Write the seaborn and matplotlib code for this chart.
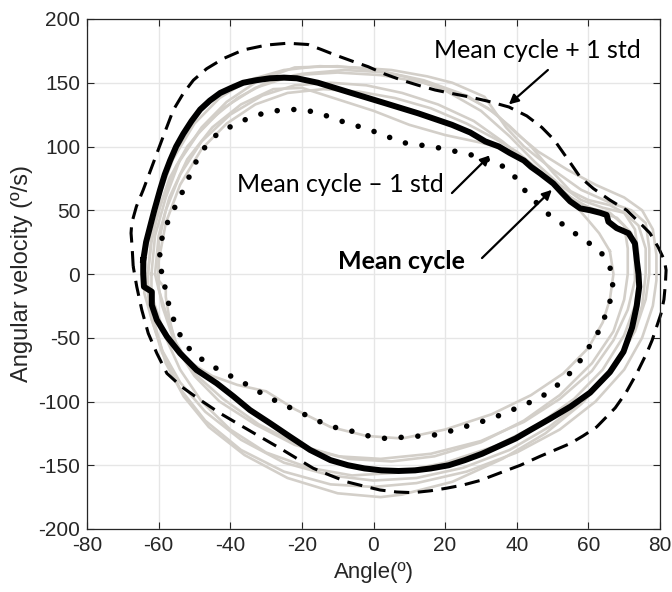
import numpy as np
import pandas as pd
import seaborn as sns
import matplotlib.pyplot as plt

# mean cycle (angle in deg, angular velocity in deg/s), clockwise from left
mean_angle = [-64.3, -63.5, -62.4, -61.2, -59.6, -58.3, -56.8, -55.1, -53.1, -50.8, -48.4, -45.7,
              -42.8, -39.7, -36.4, -32.7, -28.9, -25.0, -21.4, -15.5, -6.2, 3.2, 12.5, 21.9, 27.0,
              31.2, 35.0, 38.0, 42.0, 44.0, 46.5, 50.2, 52.5, 54.9, 57.7, 60.5, 63.3, 65.1, 65.6,
              67.9, 71.2, 73.0, 73.5, 74.0, 74.2, 73.5, 72.2, 69.8, 66.0, 60.5, 55.0, 49.0, 44.0,
              39.7, 35.0, 30.3, 25.5, 21.0, 16.0, 11.6, 7.0, 2.2, -2.5, -7.1, -12.0, -17.7, -23.3,
              -28.9, -34.5, -39.1, -43.8, -49.4, -54.0, -57.7, -60.5, -61.9, -61.9, -64.1, -64.3,
              -64.3]
mean_vel = [11, 25, 37, 50, 66, 78, 89, 100, 110, 120, 129, 136,
            142, 146, 150, 152, 153.5, 154, 153.5, 150, 142, 134, 126, 117, 111,
            104, 100, 95, 89, 84, 79, 71, 64, 57, 51.5, 50, 48, 46.3, 41,
            36, 32, 24, 11, 0, -10, -25, -42, -61, -77, -93, -104, -114, -122,
            -129, -135, -141, -146, -150, -152.5, -154, -154.5, -154, -152.5, -150, -146, -138,
            -127.6, -117, -106.7, -96, -85.7, -75.3, -62.2, -49, -36, -24.3, -13.9, -10, 0, 11]

# mean + 1 std
plus_angle = [-67.1, -67.4, -67.7, -67.5, -66.2, -64.3, -61.5, -58.7, -55.9, -53.1, -50.3, -46.6,
              -41.9, -36.4, -29.8, -24.0, -18.3, -14.5, -10.9, -6.0, -1.5, 3.0, 7.9, 12.5, 17.2,
              22.0, 26.6, 32.0, 37.8, 42.8, 47.0, 50.5, 53.0, 55.0, 57.7, 61.4, 66.0, 70.7, 74.4,
              77.2, 79.5, 81.2, 81.7, 81.5, 81.1, 80.3, 79.1, 77.8, 76.3, 73.5, 70.5, 67.5, 62.3,
              58.5, 54.9, 46.5, 41.0, 37.2, 29.7, 25.0, 20.4, 16.0, 11.1, 6.5, 1.8, -2.5, -7.5,
              -12.0, -16.8, -21.5, -26.1, -31.7, -37.3, -42.8, -48.4, -53.6, -57.7, -60.5, -62.9,
              -64.7, -66.1, -67.1]
plus_vel = [6, 21, 32, 40, 53, 66, 87, 108, 128.6, 141.7, 152, 161,
            169, 175.7, 179.6, 181, 180, 176, 172, 167, 162.6, 157, 152, 148, 144.3,
            141.5, 139, 135.5, 131, 124, 115, 105, 95, 87, 76, 67, 58, 50, 40,
            32, 21, 11, 3, -8, -20, -31, -41, -52, -62, -78, -93, -105, -120,
            -127, -133, -143, -150, -154, -162, -165.5, -168, -170, -171.5, -171, -169.4, -166.5,
            -163, -158, -152.4, -144.5, -136.7, -127.6, -118.4, -109.3, -98.8, -88.4, -77.9, -62.2,
            -46.5, -28.2, -10, 6]

# mean - 1 std
minus_angle = [-59.2, -59.7, -59.0, -57.3, -55.0, -52.9, -50.9, -48.8, -45.9, -43.1, -38.9, -34.3,
               -29.6, -24.7, -19.9, -14.9, -10.3, -5.6, -1.0, 3.7, 8.3, 13.4, 18.1, 23.2, 27.9,
               34.9, 39.0, 41.8, 45.1, 48.8, 52.8, 56.7, 59.3, 63.3, 66.0, 66.8, 66.0, 64.4, 62.5,
               59.8, 57.0, 53.8, 50.2, 46.0, 41.6, 36.9, 32.3, 27.6, 22.9, 18.1, 13.3, 8.3,
               3.4, -1.4, -6.4, -11.2, -15.7, -20.1, -24.7, -29.1, -33.4, -37.7, -42.1, -46.3,
               -50.5, -53.5, -55.4, -57.0, -58.1, -59.2]
minus_vel = [2, 16, 29, 42, 55, 67, 80, 92.5, 104, 111, 117, 123,
             127, 129, 129, 126, 121, 117, 113, 108, 103, 101, 99, 96, 93,
             87, 78, 67, 57, 47, 39, 31, 26, 18, 6, -8, -22, -35, -47,
             -59, -71, -81, -90, -98, -103, -109, -114, -118, -122, -126, -127, -128,
             -129, -127, -123, -120, -115, -109, -103, -97, -90, -83, -77, -70,
             -62, -51, -39, -26, -12, 2]

# individual cycles (grey)
g1_angle = [-64, -63, -60, -56, -50, -43, -35, -25, -15, -5, 5, 15, 22, 31, 37, 42, 50, 58, 66, 72,
            76, 77, 77, 76, 73, 67, 59, 49, 38, 25, 12, 0, -12, -25, -37, -47, -54, -59, -62, -64, -64]
g1_vel = [0, 30, 60, 90, 118, 138, 152, 160, 163, 162, 160, 155, 150, 139, 115, 100, 82, 66, 56, 50,
          40, 20, 0, -20, -45, -72, -98, -120, -138, -152, -160, -162, -158, -148, -130, -108, -85,
          -60, -35, -15, 0]

g2_angle = [-62, -61, -58, -54, -48, -41, -32, -22, -10, 0, 10, 20, 30, 38, 45, 52, 58, 64, 70, 74,
            76, 76, 75, 72, 66, 58, 48, 36, 22, 8, 2, -10, -24, -36, -46, -53, -58, -61, -62, -62]
g2_vel = [0, 30, 60, 90, 115, 135, 152, 162, 163, 160, 154, 144, 128, 108, 88, 70, 58, 52, 48, 38,
          20, 0, -25, -50, -78, -102, -125, -145, -163, -173, -175, -172, -160, -142, -120, -96,
          -70, -40, -15, 0]

g3_angle = [-61, -60, -57, -52, -45, -37, -28, -20, -10, 0, 10, 20, 30, 38, 46, 54, 60, 66, 70,
            71, 71, 70, 67, 61, 52, 42, 30, 17, 5, -7, -20, -32, -42, -50, -55, -58, -60, -61]
g3_vel = [0, 30, 60, 90, 115, 133, 145, 146, 137, 128, 117, 109, 103, 97, 80, 62, 52, 48, 38,
          20, 0, -20, -45, -70, -95, -115, -132, -143, -147, -145, -135, -118, -98, -78, -55,
          -30, -12, 0]

g4_angle = [66, 67, 66, 64, 60, 53, 44, 33, 20, 8, -2, -12, -22, -30, -38, -45, -52, -56, -59, -60,
            -60, -58, -54, -48, -41, -33, -24, -14, -4, 6, 16, 26, 34, 40, 46, 52, 56, 60, 63, 66]
g4_vel = [18, 0, -20, -38, -58, -78, -95, -110, -122, -129, -127, -120, -106, -92, -87, -80, -68,
          -50, -25, -10, 10, 40, 70, 98, 118, 133, 142, 145, 143, 138, 130, 118, 106, 96, 82, 68,
          55, 42, 32, 18]

g5_angle = [-63, -62, -59, -55, -49, -42, -33, -22, -10, 2, 14, 26, 34, 40, 46, 54, 62, 70, 75, 78,
            79, 79, 78, 75, 70, 62, 52, 40, 26, 12, 0, -12, -25, -37, -47, -54, -59, -62, -63, -63]
g5_vel = [0, 30, 58, 85, 110, 130, 146, 156, 158, 156, 150, 140, 126, 110, 96, 82, 70, 60, 50, 35,
          15, -5, -25, -50, -75, -100, -122, -140, -155, -164, -167, -165, -155, -138, -115, -90,
          -62, -35, -15, 0]

g6_angle = [-63, -62, -60, -57, -52, -46, -38, -30, -20, -8, 4, 14, 24, 32, 38, 44, 50, 55, 60, 66,
            70, 73, 74, 74, 73, 70, 64, 56, 46, 34, 20, 6, -6, -18, -30, -40, -48, -54, -58, -61,
            -63, -63]
g6_vel = [0, 25, 50, 75, 100, 120, 138, 150, 157, 160, 158, 152, 142, 130, 116, 100, 80, 65, 58,
          54, 48, 35, 15, -5, -25, -48, -75, -98, -118, -135, -148, -156, -158, -152, -140, -122,
          -100, -75, -50, -25, -8, 0]

g7_angle = [-60, -60, -58, -54, -48, -40, -31, -22, -12, -2, 8, 18, 28, 36, 43, 50, 56, 62, 68, 72,
            73, 73, 71, 67, 61, 52, 42, 30, 16, 2, -10, -22, -33, -43, -50, -55, -57, -58, -58,
            -60, -60]
g7_vel = [0, 25, 50, 78, 104, 125, 140, 148, 150, 148, 142, 133, 120, 104, 88, 72, 58, 50, 44, 32,
          15, -5, -28, -52, -76, -98, -116, -131, -141, -145, -143, -134, -118, -100, -80, -58,
          -35, -18, -12, -5, 0]

gray_curves = [(g1_angle, g1_vel), (g2_angle, g2_vel), (g3_angle, g3_vel), (g4_angle, g4_vel),
               (g5_angle, g5_vel), (g6_angle, g6_vel), (g7_angle, g7_vel)]

x_ticks = [-80, -60, -40, -20, 0, 20, 40, 60, 80]
y_ticks = [-200, -150, -100, -50, 0, 50, 100, 150, 200]

plt.rcParams['font.family'] = ['Liberation Sans', 'DejaVu Sans']
plt.rcParams['axes.unicode_minus'] = False

fig = plt.figure(figsize=(6.72, 5.92), dpi=100)
ax = fig.add_axes([87 / 672, 1 - 529 / 592, 573 / 672, 510 / 592])

grey = '#D3CFC9'
for ga, gv in gray_curves:
    sns.lineplot(x=ga, y=gv, sort=False, estimator=None, color=grey, linewidth=1.9, ax=ax)
    ax.lines[-1].set_solid_joinstyle('round')

sns.lineplot(x=plus_angle, y=plus_vel, sort=False, estimator=None, color='black',
             linewidth=2.2, ax=ax)
plus_line = ax.lines[-1]
plus_line.set_dashes((5, 2.8))
plus_line.set_dash_capstyle('butt')
plus_line.set_dash_joinstyle('round')
plus_line.set_clip_on(False)

sns.lineplot(x=minus_angle, y=minus_vel, sort=False, estimator=None, color='black',
             linewidth=4.0, ax=ax)
minus_line = ax.lines[-1]
minus_line.set_dashes((0.01, 3.0))
minus_line.set_dash_capstyle('round')

sns.lineplot(x=mean_angle, y=mean_vel, sort=False, estimator=None, color='black',
             linewidth=4.3, ax=ax)
ax.lines[-1].set_solid_joinstyle('round')

ax.set_xlim(-80, 80)
ax.set_ylim(-200, 200)
ax.set_xticks(x_ticks)
ax.set_yticks(y_ticks)
ax.grid(True, color='#E6E6E6', linewidth=1.0)
ax.set_axisbelow(True)
ax.tick_params(direction='in', length=5, width=0.8, top=True, right=True,
               labelsize=15, colors='#262626', pad=5)
for sp in ax.spines.values():
    sp.set_color('#262626')
    sp.set_linewidth(0.9)

ax.set_xlabel('Angle(º)', fontsize=16, color='#262626', labelpad=5)
ax.set_ylabel('Angular velocity (º/s)', fontsize=17, color='#262626', labelpad=4)

ann_font = ['Lato', 'DejaVu Sans']
arrow = dict(arrowstyle='-|>', color='black', lw=1.6, mutation_scale=14, shrinkA=0, shrinkB=0)
ax.annotate('Mean cycle + 1 std', xy=(37.8, 133), xytext=(45.7, 175), ha='center', va='center',
            fontsize=18, family=ann_font, color='black')
ax.annotate('', xy=(37.8, 133), xytext=(48.7, 160), arrowprops=arrow)
ax.annotate('Mean cycle \u2013 1 std', xy=(32.5, 93), xytext=(-9.3, 70), ha='center',
            va='center', fontsize=18, family=ann_font, color='black')
ax.annotate('', xy=(32.5, 93), xytext=(21.9, 63.5), arrowprops=arrow)
ax.annotate('Mean cycle', xy=(49.8, 66), xytext=(7.9, 9.5), ha='center', va='center',
            fontsize=18, family=ann_font, fontweight='bold', color='black')
ax.annotate('', xy=(49.8, 66), xytext=(30.3, 12.5), arrowprops=arrow)

fig.savefig('out.png', dpi=100)
